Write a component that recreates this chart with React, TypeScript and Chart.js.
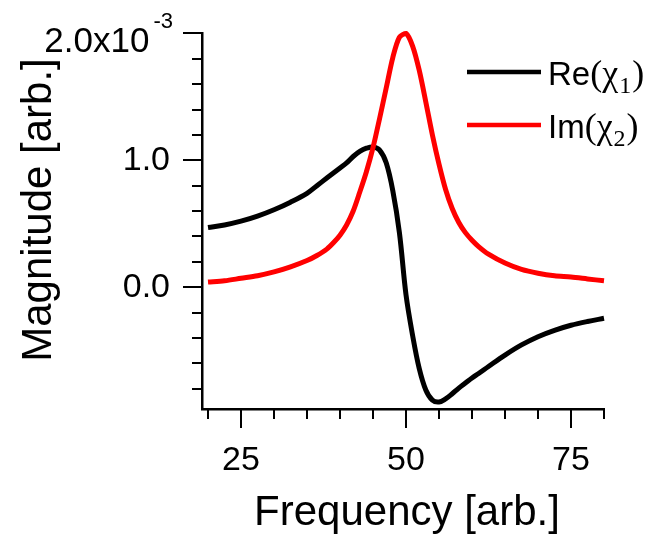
import React, { useEffect, useRef } from "react";
import { Chart, registerables } from "chart.js";

Chart.register(...registerables);

// ---- data (values in units of 1e-3) ----
const frequency = [20, 22.5, 25, 27.5, 30, 32.5, 35, 36.5, 38, 39, 40, 41, 42, 43, 44, 45, 46, 47, 48, 49, 50, 51, 52, 53, 54, 55, 56, 57, 58, 59, 60, 61, 62.5, 65, 67.5, 70, 72.5, 75, 77.5, 80];
const reChi1 = [0.47, 0.49, 0.52, 0.56, 0.61, 0.67, 0.74, 0.8, 0.86, 0.9, 0.94, 0.98, 1.03, 1.07, 1.095, 1.105, 1.08, 0.98, 0.76, 0.43, -0.06, -0.38, -0.64, -0.81, -0.89, -0.905, -0.88, -0.84, -0.795, -0.755, -0.715, -0.68, -0.625, -0.535, -0.455, -0.39, -0.34, -0.3, -0.27, -0.245];
const imChi2 = [0.04, 0.05, 0.07, 0.09, 0.12, 0.16, 0.21, 0.25, 0.3, 0.35, 0.41, 0.49, 0.6, 0.75, 0.91, 1.1, 1.33, 1.57, 1.81, 1.97, 2.0, 1.9, 1.71, 1.46, 1.2, 0.97, 0.77, 0.62, 0.51, 0.43, 0.37, 0.32, 0.26, 0.19, 0.14, 0.11, 0.09, 0.08, 0.065, 0.05];
const UNIT = 1e-3;

const xTickValues = [20, 25, 30, 35, 40, 45, 50, 55, 60, 65, 70, 75, 80];
const xMajorTicks = [25, 50, 75];
const yTickValues = [-0.8, -0.6, -0.4, -0.2, 0, 0.2, 0.4, 0.6, 0.8, 1.0, 1.2, 1.4, 1.6, 1.8, 2.0];
const yMajorTicks = [0, 1.0, 2.0];
const yTickLabels: Record<string, string> = { "0": "0.0", "1": "1.0" };
const yTopLabel = "2.0x10";
const yTopExponent = "-3";
const xTitle = "Frequency [arb.]";
const yTitle = "Magnitude [arb.]";
const seriesNames = [
  { base: "Re", sub: "1" },
  { base: "Im", sub: "2" },
];
const seriesColors = ["#000000", "#ff0000"];

const SANS = '"Liberation Sans", Arial, Helvetica, sans-serif';
const SERIF = '"Liberation Serif", "Times New Roman", serif';

const decorPlugin = {
  id: "decor",
  afterDraw(chart: any) {
    const ctx = chart.ctx as CanvasRenderingContext2D;
    const xs = chart.scales.x;
    const ys = chart.scales.y;
    ctx.save();
    ctx.strokeStyle = "#000";
    ctx.fillStyle = "#000";
    ctx.lineWidth = 2;
    // ticks
    for (const v of xTickValues) {
      const px = Math.round(xs.getPixelForValue(v));
      const len = xMajorTicks.includes(v) ? 19 : 10;
      ctx.beginPath();
      ctx.moveTo(px, xs.top);
      ctx.lineTo(px, xs.top + len);
      ctx.stroke();
    }
    for (const v of yTickValues) {
      const py = Math.round(ys.getPixelForValue(v * UNIT));
      const len = yMajorTicks.some((m) => Math.abs(m - v) < 1e-9) ? 19 : 10;
      ctx.beginPath();
      ctx.moveTo(ys.right, py);
      ctx.lineTo(ys.right - len, py);
      ctx.stroke();
    }
    // top y label with exponent
    const pyTop = ys.getPixelForValue(2.0 * UNIT);
    const rightEdge = ys.right - 29;
    ctx.textBaseline = "alphabetic";
    ctx.textAlign = "right";
    ctx.font = `22px ${SANS}`;
    const expW = ctx.measureText(yTopExponent).width;
    ctx.fillText(yTopExponent, rightEdge, pyTop - 5);
    ctx.font = `35px ${SANS}`;
    ctx.fillText(yTopLabel, rightEdge - expW - 4, pyTop + 19);

    // axis titles
    ctx.textAlign = "center";
    ctx.font = `42px ${SANS}`;
    ctx.fillText(xTitle, (xs.left + xs.right) / 2 + 4, 525);
    ctx.save();
    ctx.translate(51, 210);
    ctx.rotate(-Math.PI / 2);
    ctx.fillText(yTitle, 0, 0);
    ctx.restore();

    // legend
    const rows = [85, 138];
    seriesNames.forEach((s, i) => {
      const base = rows[i];
      ctx.strokeStyle = seriesColors[i];
      ctx.lineWidth = 4.5;
      ctx.beginPath();
      ctx.moveTo(467, base - 13);
      ctx.lineTo(541, base - 13);
      ctx.stroke();
      ctx.fillStyle = "#000";
      ctx.textAlign = "left";
      let x = 548;
      ctx.font = `33px ${SANS}`;
      ctx.fillText(s.base, x, base);
      x += ctx.measureText(s.base).width;
      ctx.font = `36px ${SERIF}`;
      ctx.fillText("(", x, base);
      x += ctx.measureText("(").width;
      ctx.fillText("\u03C7", x, base);
      x += ctx.measureText("\u03C7").width + 1;
      ctx.font = `24px ${SERIF}`;
      ctx.fillText(s.sub, x, base + 8);
      x += ctx.measureText(s.sub).width + 1;
      ctx.font = `36px ${SERIF}`;
      ctx.fillText(")", x, base);
    });
    ctx.restore();
  },
};

export default function App() {
  const ref = useRef<HTMLCanvasElement | null>(null);
  useEffect(() => {
    if (!ref.current) return;
    const chart = new Chart(ref.current, {
      type: "line",
      data: {
        datasets: [
          {
            label: "Re(χ1)",
            data: frequency.map((f, i) => ({ x: f, y: reChi1[i] * UNIT })),
            borderColor: seriesColors[0],
            borderWidth: 5,
            pointRadius: 0,
            tension: 0.35,
            fill: false,
            clip: false,
            order: 1,
          },
          {
            label: "Im(χ2)",
            data: frequency.map((f, i) => ({ x: f, y: imChi2[i] * UNIT })),
            borderColor: seriesColors[1],
            borderWidth: 5,
            pointRadius: 0,
            tension: 0.3,
            fill: false,
            clip: false,
            order: 0,
          },
        ],
      },
      options: {
        responsive: false,
        animation: false,
        devicePixelRatio: 1,
        layout: { padding: { left: 0, right: 61, top: 33, bottom: 0 } },
        plugins: { legend: { display: false }, tooltip: { enabled: false } },
        scales: {
          x: {
            type: "linear",
            min: 19.09,
            max: 80,
            afterFit: (s: any) => {
              s.height = 126;
            },
            afterBuildTicks: (s: any) => {
              s.ticks = xTickValues.map((v) => ({ value: v }));
            },
            grid: { display: true, drawOnChartArea: false, drawTicks: true, tickLength: 19, tickColor: "rgba(0,0,0,0)" },
            border: { display: true, color: "#000", width: 2.5 },
            ticks: {
              callback: (v: any) => (xMajorTicks.includes(Number(v)) ? String(v) : ""),
              font: { family: SANS, size: 34 },
              color: "#000",
              padding: 12,
              maxRotation: 0,
              autoSkip: false,
            },
          },
          y: {
            type: "linear",
            min: -0.96 * UNIT,
            max: 2.0 * UNIT,
            afterFit: (s: any) => {
              s.width = 202;
            },
            afterBuildTicks: (s: any) => {
              s.ticks = yTickValues.map((v) => ({ value: v * UNIT }));
            },
            grid: { display: true, drawOnChartArea: false, drawTicks: true, tickLength: 19, tickColor: "rgba(0,0,0,0)" },
            border: { display: true, color: "#000", width: 2.5 },
            ticks: {
              callback: (v: any) => {
                const k = String(Math.round((Number(v) / UNIT) * 10) / 10);
                return yTickLabels[k] ?? "";
              },
              font: { family: SANS, size: 34 },
              color: "#000",
              padding: 13,
              autoSkip: false,
            },
          },
        },
      },
      plugins: [decorPlugin],
    } as any);
    return () => chart.destroy();
  }, []);
  return (
    <div style={{ position: "fixed", left: 0, top: 0, width: 665, height: 535, background: "#fff" }}>
      <canvas ref={ref} width={665} height={535} style={{ display: "block", width: 665, height: 535 }} />
    </div>
  );
}
